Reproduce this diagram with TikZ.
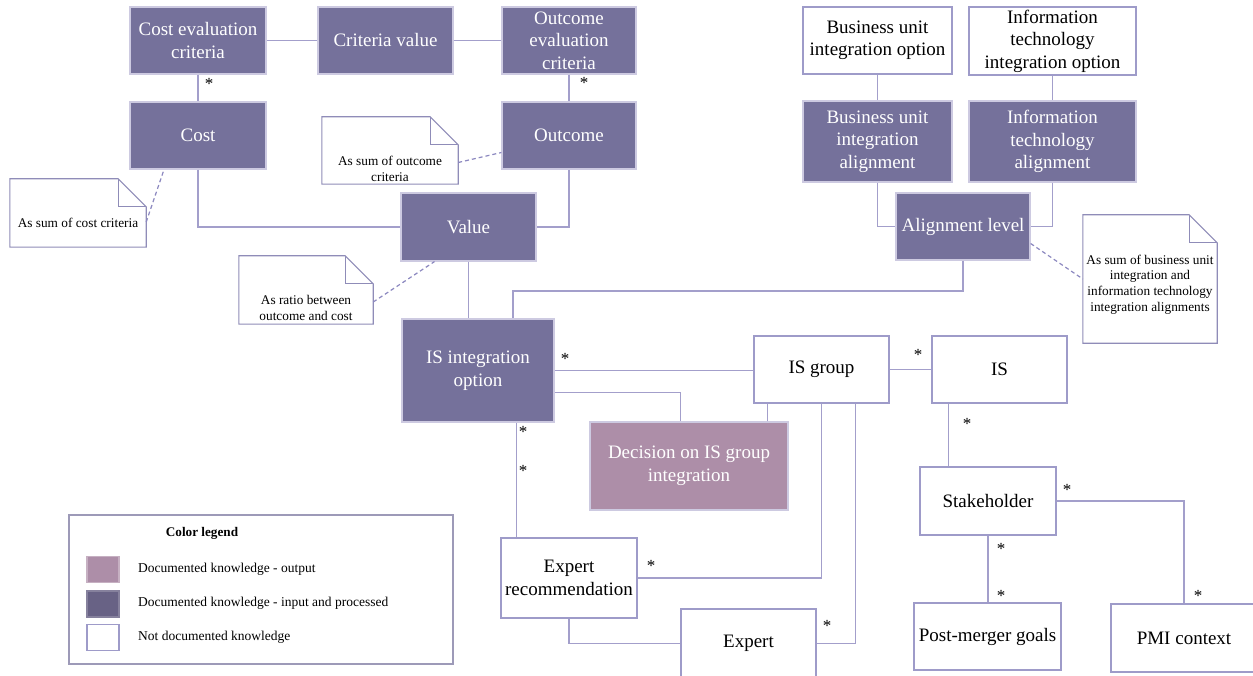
\documentclass[tikz,border=0pt]{standalone}
\usepackage{fontspec}
\setmainfont{Liberation Serif}
\usetikzlibrary{calc}

\definecolor{boxpurple}{RGB}{117,113,155}
\definecolor{boxmauve}{RGB}{173,142,168}
\definecolor{edgepurple}{RGB}{205,202,225}
\definecolor{linklav}{RGB}{163,159,203}
\definecolor{plainedge}{RGB}{158,155,201}
\definecolor{noteedge}{RGB}{143,140,184}
\definecolor{dashlav}{RGB}{140,136,192}
\definecolor{legendedge}{RGB}{157,154,184}
\definecolor{swatchdark}{RGB}{104,98,133}

% box given by its corners (x1,y1)-(x2,y2), y growing downwards
\newcommand\entitybox[7]{%
  \node[#6, minimum width={(#4)-(#2)}, minimum height={(#5)-(#3)}]
    (#1) at ({((#2)+(#4))/2},{((#3)+(#5))/2}) {#7};}
% folded-corner outline around a named note node
\newcommand\foldednote[1]{%
  \draw[noteframe] (#1.north west) -- ($(#1.north east)+(-28,0)$)
    -- ($(#1.north east)+(0,28)$) -- (#1.south east) -- (#1.south west) -- cycle;
  \draw[noteframe] ($(#1.north east)+(-28,0)$) |- ($(#1.north east)+(0,28)$);}

\begin{document}
\begin{tikzpicture}[x=1pt,y=-1pt,
  entity/.style={rectangle, inner sep=0pt, align=center,
    font=\fontsize{19}{22.5}\selectfont, line width=1.2pt},
  known/.style={entity, fill=boxpurple, draw=edgepurple, text=white},
  outputbox/.style={entity, fill=boxmauve, draw=edgepurple, text=white},
  unknown/.style={entity, fill=white, draw=plainedge, text=black},
  link/.style={draw=linklav, line width=1.3pt},
  notelink/.style={draw=dashlav, line width=1.2pt, dash pattern=on 4pt off 3pt},
  noteframe/.style={draw=noteedge, line width=1.1pt},
  notebox/.style={rectangle, inner sep=0pt, fill=white},
  notetext/.style={font=\fontsize{13.3}{15.7}\selectfont, align=center, inner sep=0pt},
  mult/.style={font=\fontsize{17}{17}\selectfont, inner sep=0pt, anchor=base},
  legendtext/.style={font=\fontsize{13.5}{15}\selectfont, inner sep=0pt, anchor=west},
  swatch/.style={rectangle, inner sep=0pt, minimum width=32, minimum height=26, line width=1.2pt}]

\useasboundingbox (0,0) rectangle (1253,676);
\fill[white] (0,0) rectangle (1253,676);

% ---- entities
\entitybox{costeval}{130}{7}{266}{74}{known}{Cost evaluation\\criteria}
\entitybox{critval}{318}{7}{453}{74}{known}{Criteria value}
\entitybox{outeval}{502}{7}{636}{74}{known}{Outcome\\evaluation\\criteria}
\entitybox{cost}{130}{102}{266}{169}{known}{Cost}
\entitybox{outcome}{502}{102}{636}{169}{known}{Outcome}
\entitybox{value}{401}{193}{536}{261}{known}{Value}
\entitybox{buopt}{803}{7}{952}{74}{unknown}{Business unit\\integration option}
\entitybox{itopt}{969}{7}{1136}{75}{unknown}{Information\\technology\\integration option}
\entitybox{bualign}{803}{101}{952}{182}{known}{Business unit\\integration\\alignment}
\entitybox{italign}{969}{101}{1136}{182}{known}{Information\\technology\\alignment}
\entitybox{align}{896}{193}{1030}{260}{known}{Alignment level}
\entitybox{isopt}{402}{319}{554}{422}{known}{IS integration\\option}
\entitybox{isgroup}{754}{336}{889}{403}{unknown}{IS group}
\entitybox{is}{932}{336}{1067}{403}{unknown}{IS}
\entitybox{decision}{590}{422}{788}{510}{outputbox}{Decision on IS group\\integration}
\entitybox{exprec}{501}{538}{637}{618}{unknown}{Expert\\recommendation}
\entitybox{expert}{681}{609}{816}{678}{unknown}{Expert}
\entitybox{stake}{920}{467}{1056}{535}{unknown}{Stakeholder}
\entitybox{goals}{914}{603}{1061}{670}{unknown}{Post-merger goals}
\entitybox{pmi}{1111}{604}{1257}{672}{unknown}{PMI context}

% ---- attachment points of the associations
\coordinate (alignturn) at (513,291);
\coordinate (decleft) at ($(decision.north west)+(91,0)$);
\coordinate (decright) at ($(decision.north west)+(178,0)$);
\coordinate (optdecision) at ($(isopt.north east)+(0,74)$);
\coordinate (rectop) at ($(exprec.north west)+(16,0)$);
\coordinate (grouprec) at ($(isgroup.south west)+(68,0)$);
\coordinate (groupexpert) at ($(isgroup.south west)+(102,0)$);
\coordinate (isstake) at ($(is.south west)+(17,0)$);

% ---- associations
\draw[link] (costeval.east) -- (costeval.east -| critval.west);
\draw[link] (critval.east) -- (critval.east -| outeval.west);
\draw[link] (costeval.south) -- (cost.north);
\draw[link] (outeval.south) -- (outcome.north);
\draw[link] (cost.south) |- (value.west);
\draw[link] (outcome.south) |- (value.east);
\draw[link] (value.south) -- (value.south |- isopt.north);
\draw[link] (buopt.south) -- (bualign.north);
\draw[link] (itopt.south) -- (italign.north);
\draw[link] (bualign.south) |- (align.west);
\draw[link] (italign.south) |- (align.east);
\draw[link] (align.south) |- (alignturn) -- (alignturn |- isopt.north);
\draw[link] (isopt.east) -- (isopt.east -| isgroup.west);
\draw[link] (optdecision) -| (decleft);
\draw[link] (decright) -- (decright |- isgroup.south);
\draw[link] (rectop) -- (rectop |- isopt.south);
\draw[link] (exprec.east) -| (grouprec);
\draw[link] (exprec.south) |- (expert.west);
\draw[link] (expert.east) -| (groupexpert);
\draw[link] (isgroup.east) -- (isgroup.east -| is.west);
\draw[link] (isstake) -- (isstake |- stake.north);
\draw[link] (stake.south) -- (stake.south |- goals.north);
\draw[link] (stake.east) -| (pmi.north);

% ---- notes
\node[notebox, minimum width=136, minimum height=68] (costnote) at (78,213) {};
\foldednote{costnote}
\node[notetext] (costnotetext) at (78,223) {As sum of cost criteria};
\draw[notelink] ($(costnote.east)+(0,9)$) -- ($(cost.south)+(-34,0)$);

\node[notebox, minimum width=136, minimum height=67] (outnote) at (390,150.5) {};
\foldednote{outnote}
\node[notetext] (outnotetext) at (390,169) {As sum of outcome\\criteria};
\draw[notelink] ($(outnote.east)+(0,12)$) -- ($(outcome.west)+(0,17)$);

\node[notebox, minimum width=134, minimum height=68] (rationote) at (306,290) {};
\foldednote{rationote}
\node[notetext] (rationotetext) at (306,308) {As ratio between\\outcome and cost};
\draw[notelink] ($(rationote.east)+(0,12)$) -- ($(value.south)+(-34,0)$);

\node[notebox, minimum width=134, minimum height=128] (alnote) at (1150,279) {};
\foldednote{alnote}
\node[notetext] (alnotetext) at (1150,284.5) {As sum of business unit\\integration and\\information technology\\integration alignments};
\draw[notelink] ($(align.east)+(0,17)$) -- (alnote.west);

% ---- multiplicities
\node[mult] (m1) at (209,90) {*};
\node[mult] (m2) at (584,89) {*};
\node[mult] (m3) at (565,364) {*};
\node[mult] (m4) at (523,437) {*};
\node[mult] (m5) at (523,476) {*};
\node[mult] (m6) at (651,571) {*};
\node[mult] (m7) at (827,631) {*};
\node[mult] (m8) at (918,360) {*};
\node[mult] (m9) at (967,429) {*};
\node[mult] (m10) at (1067,495) {*};
\node[mult] (m11) at (1001,554) {*};
\node[mult] (m12) at (1001,601) {*};
\node[mult] (m13) at (1198,601) {*};

% ---- colour legend
\node[rectangle, draw=legendedge, line width=1.2pt, minimum width=384, minimum height=149]
  (legend) at (261,589.5) {};
\node[font=\bfseries\fontsize{13.2}{15}\selectfont, inner sep=0pt] (legtitle) at (202,533) {Color legend};
\node[swatch, fill=boxmauve, draw=boxmauve!70!white] (sw1) at (103,569.5) {};
\node[swatch, fill=swatchdark, draw=swatchdark!80!white] (sw2) at (103,604) {};
\node[swatch, fill=white, draw=plainedge] (sw3) at (103,637.5) {};
\node[legendtext] (lt1) at (138,569) {Documented knowledge - output};
\node[legendtext] (lt2) at (138,603) {Documented knowledge - input and processed};
\node[legendtext] (lt3) at (138,637) {Not documented knowledge};
\end{tikzpicture}
\end{document}
